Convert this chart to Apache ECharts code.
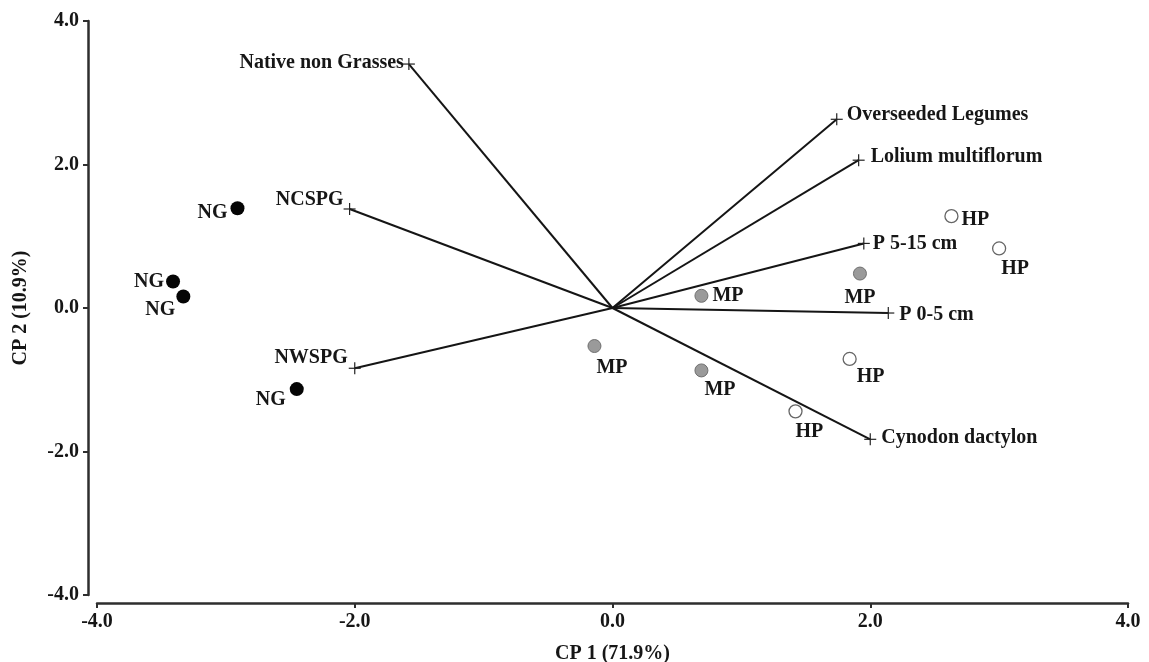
<!DOCTYPE html>
<html>
<head>
<meta charset="utf-8">
<title>CP biplot</title>
<script src="https://cdn.jsdelivr.net/npm/echarts@6/dist/echarts.min.js"></script>
<style>
  html, body { margin: 0; padding: 0; background: #fff; }
  #chart { width: 1149px; height: 662px; }
</style>
</head>
<body>
<div id="chart"></div>
<script>
// Variable loadings (arrows from the origin)
const vectorNames = ['Native non Grasses', 'NCSPG', 'NWSPG', 'Overseeded Legumes',
                     'Lolium multiflorum', 'P 5-15 cm', 'P 0-5 cm', 'Cynodon dactylon'];
const vectorCP1 = [-1.58, -2.04, -2.00, 1.74, 1.91, 1.95, 2.14, 2.00];
const vectorCP2 = [3.40, 1.38, -0.84, 2.63, 2.06, 0.90, -0.07, -1.83];

// Site scores by group
const ngCP1 = [-2.91, -3.41, -3.33, -2.45];
const ngCP2 = [1.39, 0.37, 0.16, -1.13];
const mpCP1 = [0.69, 1.92, -0.14, 0.69];
const mpCP2 = [0.17, 0.48, -0.53, -0.87];
const hpCP1 = [2.63, 3.00, 1.84, 1.42];
const hpCP2 = [1.28, 0.83, -0.71, -1.44];

const axisTicks = [-4, -2, 0, 2, 4];

// Label placement: [dx, dy, align]
const vectorLabelPlace = [
  [-5, -1, 'right'], [-6, -9, 'right'], [-7, -10, 'right'], [10, -4, 'left'],
  [12, -3, 'left'], [9, 0, 'left'], [11, 2, 'left'], [11, -1, 'left']
];
const ngLabelPlace = [[-10, 5, 'right'], [-9, 0, 'right'], [-8, 13, 'right'], [-11, 11, 'right']];
const mpLabelPlace = [[11, 0, 'left'], [0, 24, 'center'], [2, 22, 'left'], [3, 19, 'left']];
const hpLabelPlace = [[10, 4, 'left'], [2, 20, 'left'], [7, 18, 'left'], [0, 21, 'left']];

const FONT_FAMILY = '"Liberation Serif", "DejaVu Serif", serif';
const TEXT_COLOR = '#161616';
const FONT_SIZE = 20;

function siteData(xs, ys, place) {
  return xs.map((x, i) => ({
    value: [x, ys[i]],
    label: {
      offset: [place[i][0], place[i][1]],
      align: place[i][2]
    }
  }));
}

function siteSeries(name, xs, ys, place, itemStyle, size) {
  return {
    type: 'scatter',
    name: name,
    data: siteData(xs, ys, place),
    symbol: 'circle',
    symbolSize: size,
    itemStyle: Object.assign({ opacity: 1 }, itemStyle),
    z: 5,
    label: {
      show: true,
      position: 'inside',
      verticalAlign: 'middle',
      formatter: name,
      color: TEXT_COLOR,
      opacity: 1,
      fontFamily: FONT_FAMILY,
      fontWeight: 'bold',
      fontSize: FONT_SIZE
    },
    emphasis: { disabled: true }
  };
}

const vectorData = vectorNames.map((n, i) => [vectorCP1[i], vectorCP2[i], i]);

const axisCommon = {
  type: 'value',
  min: -4,
  max: 4,
  interval: 2,
  splitLine: { show: false },
  axisLine: { show: true, onZero: false, lineStyle: { color: '#2e2e2e', width: 2.5 } },
  axisTick: { show: true, inside: false, length: 5, lineStyle: { color: '#2e2e2e', width: 2 } },
  axisLabel: {
    color: TEXT_COLOR,
    fontFamily: FONT_FAMILY,
    fontWeight: 'bold',
    fontSize: FONT_SIZE,
    margin: 9,
    customValues: axisTicks,
    formatter: v => v.toFixed(1)
  },
  nameLocation: 'middle',
  nameTextStyle: {
    color: TEXT_COLOR,
    fontFamily: FONT_FAMILY,
    fontWeight: 'bold',
    fontSize: FONT_SIZE
  }
};

const option = {
  animation: false,
  backgroundColor: '#fff',
  grid: { left: 97, right: 21, top: 21, bottom: 67, containLabel: false, outerBoundsMode: 'none' },
  xAxis: Object.assign({}, axisCommon, {
    name: 'CP 1 (71.9%)',
    nameGap: 41,
    offset: 8
  }),
  yAxis: Object.assign({}, axisCommon, {
    name: 'CP 2 (10.9%)',
    nameGap: 57,
    nameRotate: 90,
    offset: 9
  }),
  series: [
    {
      type: 'custom',
      name: 'loadings',
      coordinateSystem: 'cartesian2d',
      encode: { x: 0, y: 1 },
      clip: false,
      z: 2,
      data: vectorData,
      renderItem: function (params, api) {
        const o = api.coord([0, 0]);
        const p = api.coord([api.value(0), api.value(1)]);
        const idx = api.value(2);
        const place = vectorLabelPlace[idx];
        const h = 6;
        return {
          type: 'group',
          children: [
            {
              type: 'line',
              shape: { x1: o[0], y1: o[1], x2: p[0], y2: p[1] },
              style: { stroke: '#151515', lineWidth: 2 }
            },
            {
              type: 'line',
              shape: { x1: p[0] - h, y1: p[1], x2: p[0] + h, y2: p[1] },
              style: { stroke: '#222', lineWidth: 1.2 }
            },
            {
              type: 'line',
              shape: { x1: p[0], y1: p[1] - h, x2: p[0], y2: p[1] + h },
              style: { stroke: '#222', lineWidth: 1.2 }
            },
            {
              type: 'text',
              style: {
                text: vectorNames[idx],
                x: p[0] + place[0],
                y: p[1] + place[1],
                align: place[2],
                verticalAlign: 'middle',
                fill: TEXT_COLOR,
                font: 'bold ' + FONT_SIZE + 'px ' + FONT_FAMILY
              }
            }
          ]
        };
      }
    },
    siteSeries('NG', ngCP1, ngCP2, ngLabelPlace,
      { color: '#050505' }, 14),
    siteSeries('MP', mpCP1, mpCP2, mpLabelPlace,
      { color: '#9a9a9a', borderColor: '#707070', borderWidth: 1 }, 13),
    siteSeries('HP', hpCP1, hpCP2, hpLabelPlace,
      { color: '#ffffff', borderColor: '#666666', borderWidth: 1.3 }, 13)
  ]
};

const chart = echarts.init(document.getElementById('chart'), null, { renderer: 'canvas' });
chart.setOption(option);
</script>
</body>
</html>
